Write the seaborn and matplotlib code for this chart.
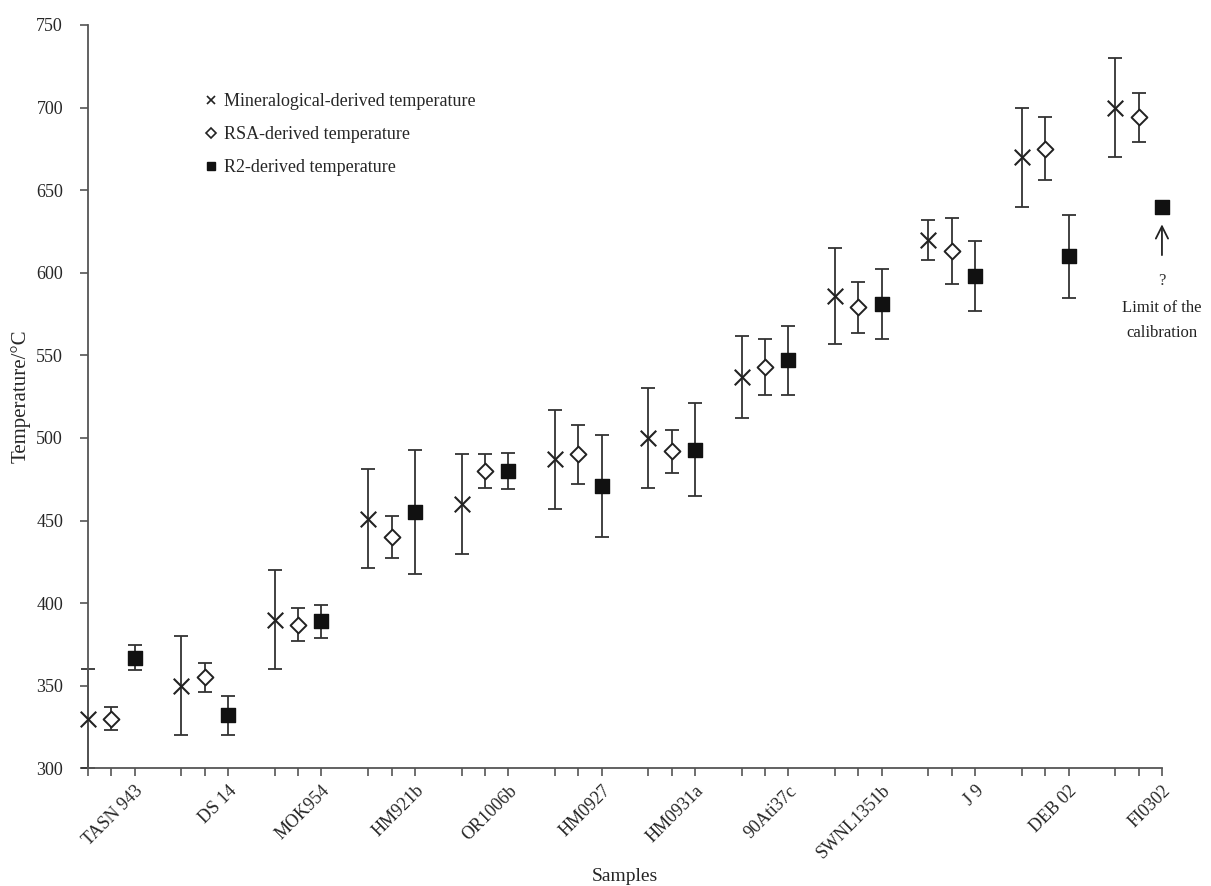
import numpy as np
import pandas as pd
import matplotlib
matplotlib.use('Agg')
import matplotlib.pyplot as plt
from matplotlib.lines import Line2D
import seaborn as sns

# Data
samples = ['TASN 943', 'DS 14', 'MOK954', 'HM921b', 'OR1006b', 'HM0927',
           'HM0931a', '90Ati37c', 'SWNL1351b', 'J 9', 'DEB 02', 'FI0302']

mineral_t   = [330, 350, 390, 451, 460, 487, 500, 537, 586, 620, 670, 700]
mineral_err = [30, 30, 30, 30, 30, 30, 30, 25, 29, 12, 30, 30]

rsa_t   = [330, 355, 387, 440, 480, 490, 492, 543, 579, 613, 675, 694]
rsa_err = [7, 9, 10, 12.5, 10, 18, 13, 17, 15.5, 20, 19, 15]

r2_t   = [367, 332, 389, 455, 480, 471, 493, 547, 581, 598, 610, 640]
r2_err = [7.5, 12, 10, 37.5, 11, 31, 28, 21, 21, 21, 25, 0]

labels = ['Mineralogical-derived temperature', 'RSA-derived temperature',
          'R2-derived temperature']

# Styling
sns.set_style('ticks')
plt.rcParams['font.family'] = ['Liberation Serif', 'DejaVu Serif']

n = len(samples)
grp = np.arange(n) * 4
rows = []
for k, (lab, vals, errs) in enumerate(zip(labels, [mineral_t, rsa_t, r2_t],
                                           [mineral_err, rsa_err, r2_err])):
    for i in range(n):
        rows.append({'x': grp[i] + k, 'T': vals[i], 'err': errs[i],
                     'method': lab, 'sample': samples[i]})
df = pd.DataFrame(rows)

fig = plt.figure(figsize=(12.11, 8.86), dpi=100)
ax = fig.add_axes([0.0727, 0.1328, 0.8868, 0.8390])

line_col = '#333333'
# error bars (skip zero)
for lab in labels:
    d = df[(df['method'] == lab) & (df['err'] > 0)]
    ax.errorbar(d['x'], d['T'], yerr=d['err'], fmt='none', ecolor=line_col,
                elinewidth=1.3, capsize=5, capthick=1.3, zorder=2, clip_on=False)

d = df[df['method'] == labels[0]]
ax.scatter(d['x'], d['T'], marker='x', s=125, color='#222222', linewidths=1.5,
           zorder=3, clip_on=False)
d = df[df['method'] == labels[1]]
ax.scatter(d['x'], d['T'], marker='D', s=65, facecolor='white', edgecolor='#222222',
           linewidths=1.4, zorder=3, clip_on=False)
d = df[df['method'] == labels[2]]
ax.scatter(d['x'], d['T'], marker='s', s=90, color='#111111', zorder=3, clip_on=False)

ax.set_xlim(0, 4 * (n - 1) + 2)
ax.set_ylim(300, 750)
ax.set_yticks(np.arange(300, 751, 50))

ticks = sorted(df['x'].unique())
ax.set_xticks(ticks)
ticklabels = []
for t in ticks:
    if t % 4 == 2:
        ticklabels.append(samples[t // 4])
    else:
        ticklabels.append('')
ax.set_xticklabels(ticklabels, rotation=45, ha='right', rotation_mode='anchor',
                   fontsize=13)
ax.tick_params(axis='y', labelsize=13, length=6, color='#555555', width=1.2, pad=12)
ax.tick_params(axis='x', length=6, color='#555555', width=1.2, pad=4)

sns.despine(ax=ax)
for s in ['left', 'bottom']:
    ax.spines[s].set_color('#555555')
    ax.spines[s].set_linewidth(1.3)

ax.set_ylabel('Temperature/°C', fontsize=15, labelpad=4)
ax.set_xlabel('Samples', fontsize=14, labelpad=4)

# Legend
handles = [
    Line2D([], [], marker='x', linestyle='none', color='#222222', markersize=6, markeredgewidth=1.2),
    Line2D([], [], marker='D', linestyle='none', markerfacecolor='white',
           markeredgecolor='#222222', markersize=5, markeredgewidth=1.2),
    Line2D([], [], marker='s', linestyle='none', color='#111111', markersize=6),
]
ax.legend(handles, labels, loc='upper left', bbox_to_anchor=(0.1, 0.918),
          frameon=False, fontsize=13, handletextpad=0.3, handlelength=0.9,
          labelspacing=0.88, borderaxespad=0)

# Annotation at last R2 point
last_x = df[df['method'] == labels[2]]['x'].max()
ax.annotate('', xy=(last_x, 631), xytext=(last_x, 609),
            arrowprops=dict(arrowstyle='->', color='#222222', lw=1.3,
                            mutation_scale=22), annotation_clip=False)
ax.text(last_x, 595, '?', ha='center', va='center', fontsize=12, color='#333333')
ax.text(last_x, 571, 'Limit of the\ncalibration', ha='center', va='center',
        fontsize=12, linespacing=1.75, color='#222222')

fig.savefig('out.png', dpi=100)
